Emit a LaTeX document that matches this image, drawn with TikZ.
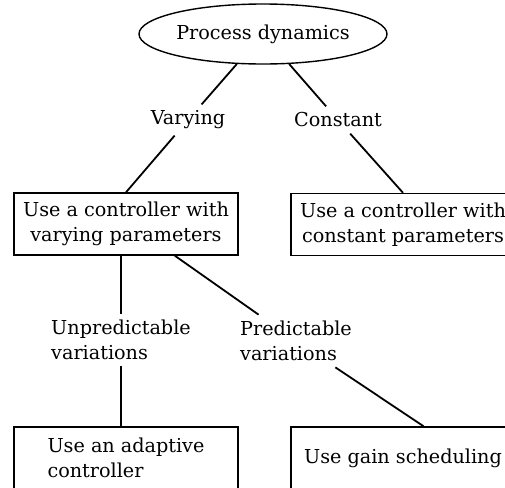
\documentclass[tikz,border=0pt]{standalone}
\usepackage{fontspec}
\setmainfont{DejaVu Serif}
\usetikzlibrary{shapes.geometric}
\begin{document}
\begin{tikzpicture}[x=0.5pt,y=-0.5pt,
  every node/.style={font=\fontsize{9.6}{12.5}\selectfont},
  box/.style={draw,line width=0.7pt,minimum width=112pt,minimum height=31pt,inner sep=0pt},
  lbl/.style={align=left,inner sep=3pt},
  conn/.style={line width=0.9pt}]
\useasboundingbox (0,0) rectangle (505,488);
\clip (0,0) rectangle (505,488);
\node[ellipse,draw,line width=0.7pt,minimum width=124pt,minimum height=30pt,inner sep=0pt] (pd) at (263,34) {Process dynamics};
\node[lbl] (vary) at (188,120) {Varying};
\node[lbl] (const) at (338,120) {Constant};
\node[box,align=center] (b1) at (126,224) {Use a controller with\\varying parameters};
\node[box,align=center] (b2) at (403,224.5) {Use a controller with\\constant parameters};
\node[lbl] (unp) at (121,340) {Unpredictable\\variations};
\node[lbl] (pred) at (296,341) {Predictable\\variations};
\node[box,align=left] (b3) at (126,458) {Use an adaptive\\controller};
\node[box] (b4) at (403,458) {Use gain scheduling};
\draw[conn] (pd) -- (vary);
\draw[conn] (vary) -- (b1.north);
\draw[conn] (pd) -- (const);
\draw[conn] (const) -- (b2.north);
\draw[conn] (unp |- b1.south) -- (unp);
\draw[conn] (b1.-33) -- (pred);
\draw[conn] (unp) -- (unp |- b3.north);
\draw[conn] (pred) -- (b4.57);
\end{tikzpicture}
\end{document}
